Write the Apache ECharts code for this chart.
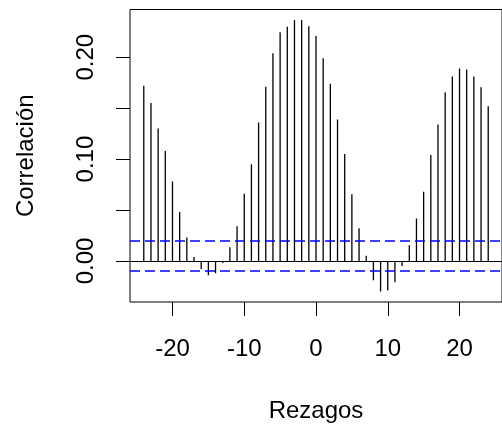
<!DOCTYPE html>
<html>
<head>
<meta charset="utf-8">
<script src="https://cdn.jsdelivr.net/npm/echarts@6/dist/echarts.min.js"></script>
<style>html,body{margin:0;padding:0;background:#fff}#c{width:502px;height:429px}</style>
</head>
<body>
<div id="c"></div>
<script>
var lags = [-24,-23,-22,-21,-20,-19,-18,-17,-16,-15,-14,-13,-12,-11,-10,-9,-8,-7,-6,-5,-4,-3,-2,-1,0,1,2,3,4,5,6,7,8,9,10,11,12,13,14,15,16,17,18,19,20,21,22,23,24];
var acf = [0.172,0.155,0.130,0.108,0.078,0.048,0.023,0.004,-0.008,-0.014,-0.012,-0.002,0.0135,0.034,0.066,0.095,0.136,0.171,0.204,0.2245,0.230,0.2366,0.2366,0.2305,0.221,0.199,0.174,0.139,0.105,0.0655,0.032,0.005,-0.019,-0.030,-0.029,-0.021,-0.005,0.0154,0.0416,0.068,0.104,0.134,0.1656,0.181,0.189,0.188,0.181,0.1705,0.152];
var ciBounds = [0.0155, -0.0145];
var xTicks = [-20,-10,0,10,20];
var yTicks = [0,0.05,0.10,0.15,0.20];
var yLabels = [0,0.10,0.20];

var FONT = 'Liberation Sans';
var chart = echarts.init(document.getElementById('c'), null, {renderer:'canvas'});
var pts = lags.map(function(l,i){return [l, acf[i]];});
chart.setOption({
  animation:false,
  backgroundColor:'#fff',
  grid:{left:130, top:9.5, width:382, height:292.5, show:true, borderColor:'#000', borderWidth:1, backgroundColor:'transparent'},
  xAxis:{
    type:'value', min:-25.92, max:25.92,
    name:'Rezagos', nameLocation:'middle', nameGap:97,
    nameTextStyle:{fontFamily:FONT, fontSize:24, color:'#000'},
    axisLine:{show:false, onZero:false},
    splitLine:{show:false},
    axisTick:{show:true, length:14, inside:false, customValues:xTicks, lineStyle:{color:'#000', width:1}},
    axisLabel:{customValues:xTicks, margin:35, fontFamily:FONT, fontSize:24, color:'#000', formatter:function(v){return String(v);}}
  },
  yAxis:{
    type:'value', min:-0.0403, max:0.2469,
    name:'Correlación', nameLocation:'middle', nameGap:92,
    nameTextStyle:{fontFamily:FONT, fontSize:24, color:'#000'},
    axisLine:{show:false, onZero:false},
    splitLine:{show:false},
    axisTick:{show:true, length:14, inside:false, customValues:yTicks, lineStyle:{color:'#000', width:1}},
    axisLabel:{customValues:yLabels, rotate:90, margin:32, fontFamily:FONT, fontSize:24, color:'#000', formatter:function(v){return v.toFixed(2);}}
  },
  series:[
    {
      type:'custom',
      data:pts,
      clip:true,
      renderItem:function(params, api){
        var p0 = api.coord([api.value(0), 0]);
        var p1 = api.coord([api.value(0), api.value(1)]);
        return {type:'line', shape:{x1:p0[0], y1:p0[1], x2:p1[0], y2:p1[1]}, style:{stroke:'#000', lineWidth:1.3}};
      },
      markLine:{
        silent:true, symbol:['none','none'], label:{show:false},
        data:[
          {yAxis:0, lineStyle:{color:'#000', type:'solid', width:1}},
          {yAxis:ciBounds[0], lineStyle:{color:'#0000FF', type:[10,5], width:1.5}},
          {yAxis:ciBounds[1], lineStyle:{color:'#0000FF', type:[10,5], width:1.5}}
        ]
      }
    }
  ]
});
</script>
</body>
</html>
